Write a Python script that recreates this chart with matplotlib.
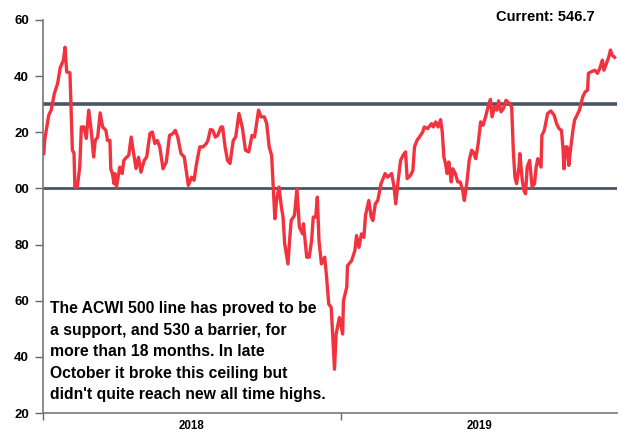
import matplotlib
matplotlib.use("Agg")
import matplotlib.pyplot as plt
import matplotlib.dates as mdates
import numpy as np
import pandas as pd

dates_2018 = [
    "01-02", "01-03", "01-08", "01-11", "01-15", "01-19", "01-22", "01-26", "01-28", "01-30",
    "02-03", "02-06", "02-08", "02-09", "02-12", "02-15", "02-17", "02-20", "02-23", "02-26",
    "03-01", "03-04", "03-06", "03-09", "03-12", "03-15", "03-19", "03-21", "03-24", "03-25",
    "03-27", "03-29", "03-30", "04-01", "04-03", "04-05", "04-08", "04-10", "04-13", "04-16",
    "04-19", "04-22", "04-25", "04-28", "05-01", "05-05", "05-08", "05-12", "05-15", "05-18",
    "05-21", "05-24", "05-28", "06-01", "06-05", "06-09", "06-12", "06-15", "06-19", "06-23",
    "06-26", "06-28", "07-02", "07-05", "07-08", "07-12", "07-16", "07-20", "07-22", "07-25",
    "07-28", "07-31", "08-03", "08-07", "08-09", "08-12", "08-15", "08-18", "08-22", "08-25",
    "08-29", "09-02", "09-06", "09-10", "09-14", "09-17", "09-19", "09-22", "09-25", "09-29",
    "10-02", "10-05", "10-08", "10-12", "10-14", "10-17", "10-20", "10-22", "10-24", "10-28",
    "10-30", "11-01", "11-05", "11-08", "11-11", "11-15", "11-16", "11-20", "11-23", "11-26",
    "11-28", "12-01", "12-03", "12-05", "12-08", "12-10", "12-12", "12-14", "12-17", "12-20",
    "12-24", "12-26", "12-30",
]
values_2018 = [
    512.4, 517.1, 526.1, 527.9, 533.9, 537.5, 542.9, 545.7, 550.3, 541.5,
    541.2, 513.6, 512.5, 500.5, 500.5, 507.6, 521.9, 521.9, 517.8, 527.9,
    520.7, 511.2, 517.1, 518.3, 526.9, 521.9, 520.7, 517.1, 517.1, 507.0,
    505.3, 501.7, 505.3, 500.5, 504.0, 507.6, 505.3, 510.0, 511.0, 511.8,
    518.3, 512.5, 507.1, 511.1, 505.8, 510.0, 511.2, 519.6, 520.1, 516.0,
    517.1, 514.8, 507.0, 509.4, 518.9, 519.5, 520.7, 518.3, 512.4, 511.2,
    505.3, 501.1, 504.0, 502.9, 508.8, 514.8, 514.8, 516.0, 517.1, 521.0,
    520.7, 518.3, 518.9, 521.9, 521.9, 514.8, 510.0, 508.9, 517.1, 518.3,
    526.7, 521.9, 513.6, 513.0, 518.9, 518.3, 521.9, 527.9, 525.5, 525.5,
    523.1, 514.8, 511.8, 489.2, 495.7, 500.5, 493.3, 489.8, 480.3, 473.1,
    481.4, 488.6, 490.4, 499.9, 486.2, 483.8, 487.4, 475.5, 475.5, 481.4,
    489.8, 489.8, 496.9, 481.4, 473.1, 474.3, 475.5, 469.5, 458.8, 457.6,
    435.6, 448.1, 454.0,
]
dates_2019 = [
    "01-03", "01-04", "01-08", "01-09", "01-14", "01-18", "01-20", "01-23", "01-26", "01-29",
    "01-31", "02-04", "02-07", "02-09", "02-12", "02-15", "02-19", "02-24", "02-27", "03-04",
    "03-07", "03-09", "03-12", "03-15", "03-18", "03-21", "03-23", "03-27", "03-30", "04-01",
    "04-04", "04-07", "04-11", "04-13", "04-17", "04-22", "04-24", "04-27", "04-30", "05-03",
    "05-05", "05-07", "05-09", "05-11", "05-13", "05-16", "05-18", "05-21", "05-24", "05-27",
    "05-30", "06-01", "06-04", "06-07", "06-10", "06-12", "06-15", "06-18", "06-21", "06-24",
    "06-27", "06-30", "07-03", "07-05", "07-08", "07-11", "07-13", "07-16", "07-19", "07-22",
    "07-26", "07-29", "07-31", "08-02", "08-04", "08-07", "08-08", "08-11", "08-13", "08-15",
    "08-17", "08-20", "08-23", "08-26", "08-28", "08-30", "09-03", "09-04", "09-07", "09-11",
    "09-15", "09-19", "09-22", "09-25", "09-28", "09-30", "10-01", "10-03", "10-05", "10-07",
    "10-09", "10-12", "10-14", "10-17", "10-20", "10-22", "10-24", "10-27", "10-30", "10-31",
    "11-03", "11-08", "11-11", "11-14", "11-17", "11-19", "11-22", "11-25", "11-27", "11-29",
    "12-02",
]
values_2019 = [
    448.1, 460.0, 464.8, 472.5, 474.3, 477.9, 483.2, 479.0, 483.8, 482.6,
    490.4, 495.7, 489.8, 488.6, 494.5, 495.7, 501.7, 505.3, 504.0, 505.3,
    500.5, 494.5, 502.9, 510.0, 511.8, 513.0, 503.5, 504.6, 506.4, 514.8,
    517.1, 518.3, 520.1, 521.9, 521.3, 523.1, 521.9, 523.7, 521.9, 524.5,
    520.1, 511.2, 508.8, 505.3, 509.4, 502.3, 507.0, 505.3, 502.3, 502.3,
    499.3, 495.7, 501.7, 510.0, 513.6, 513.0, 510.6, 516.0, 523.7, 522.5,
    525.5, 529.0, 531.7, 525.5, 529.0, 527.9, 531.2, 527.3, 528.5, 531.4,
    530.3, 529.0, 513.6, 504.0, 501.7, 507.6, 512.4, 502.9, 499.3, 498.1,
    507.6, 510.0, 500.5, 501.7, 507.6, 510.6, 507.6, 518.9, 520.7, 526.7,
    527.6, 526.1, 523.1, 521.3, 520.7, 513.6, 507.0, 514.8, 514.8, 508.2,
    513.6, 520.7, 524.3, 526.1, 527.9, 530.3, 532.6, 534.4, 535.0, 541.0,
    541.5, 542.1, 541.0, 542.8, 545.7, 542.1, 544.5, 546.9, 549.3, 547.5,
    546.7,
]

support_level = 500
barrier_level = 530
y_ticks = [420, 440, 460, 480, 500, 520, 540, 560]
y_tick_labels = ["20", "40", "60", "80", "00", "20", "40", "60"]
year_labels = ["2018", "2019"]
current_label = "Current: 546.7"
note = ("The ACWI 500 line has proved to be\n"
        "a support, and 530 a barrier, for\n"
        "more than 18 months. In late\n"
        "October it broke this ceiling but\n"
        "didn't quite reach new all time highs.")

dates = pd.to_datetime(["2018-" + d for d in dates_2018] + ["2019-" + d for d in dates_2019])
values = np.array(values_2018 + values_2019)

plt.rcParams['font.family'] = ['Liberation Sans', 'DejaVu Sans']

fig = plt.figure(figsize=(6.2, 4.32), dpi=100)
ax = fig.add_axes([43/620, 1 - 413/432, (617-43)/620, (413-20)/432])

line_col = "#4a5763"
ax.axhline(barrier_level, color=line_col, lw=2.6, zorder=2)
ax.axhline(support_level, color=line_col, lw=2.0, zorder=2)
ax.plot(dates, values, color="#f2333f", lw=2.4, zorder=3, solid_joinstyle='round')

ax.set_ylim(420, 560)
ax.set_xlim(pd.Timestamp("2018-01-01"), pd.Timestamp("2019-12-05"))

ax.set_yticks(y_ticks)
ax.set_yticklabels(y_tick_labels, fontsize=9.5, fontweight='bold')
ax.tick_params(axis='y', length=6, width=1, color="#666666", pad=4)

ax.set_xticks([pd.Timestamp("2018-01-01"), pd.Timestamp("2019-01-01")])
ax.set_xticklabels([])
ax.tick_params(axis='x', length=5, width=1, color="#666666")
year_mids = [mdates.date2num(pd.Timestamp("2018-07-02")), mdates.date2num(pd.Timestamp("2019-06-20"))]
for lab, mid in zip(year_labels, year_mids):
    ax.annotate(lab, xy=(mid, 0), xycoords=ax.get_xaxis_transform(),
                xytext=(0, -13), textcoords='offset pixels',
                ha='center', va='center', fontsize=8.3, fontweight='bold')

for s in ['top', 'right']:
    ax.spines[s].set_visible(False)
ax.spines['left'].set_color("#777777")
ax.spines['bottom'].set_color("#777777")
ax.spines['left'].set_linewidth(1.2)
ax.spines['bottom'].set_linewidth(1.2)

fig.text(545/620, 1 - 17/432, current_label, ha='center', va='center', fontsize=10.5, fontweight='bold')
fig.text(50/620, 1 - 301/432, note, ha='left', va='top', fontsize=11.3, fontweight='bold',
         linespacing=1.55)

fig.savefig("out.png", dpi=100)
